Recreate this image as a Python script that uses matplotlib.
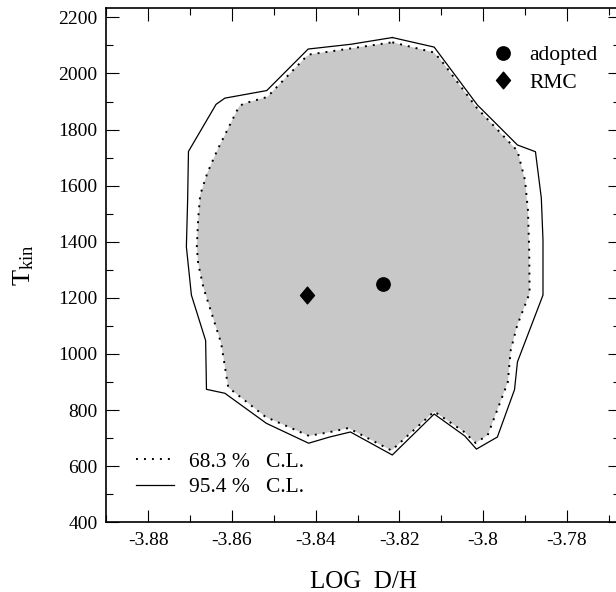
import numpy as np
import matplotlib
matplotlib.use("Agg")
import matplotlib.pyplot as plt
from matplotlib.lines import Line2D
from matplotlib.path import Path
from matplotlib.ticker import MultipleLocator, FixedLocator, FixedFormatter

plt.rcParams['font.family'] = ['Liberation Serif', 'DejaVu Serif']
plt.rcParams['mathtext.fontset'] = 'custom'
plt.rcParams['mathtext.rm'] = 'Liberation Serif'
plt.rcParams['mathtext.it'] = 'Liberation Serif:italic'
plt.rcParams['axes.unicode_minus'] = False

# ---- data ----
cl95_x = [-3.8217, -3.8117, -3.8014, -3.7918, -3.7875, -3.7861, -3.7857, -3.7857,
          -3.7918, -3.7925, -3.7966, -3.8016, -3.8044, -3.8117, -3.8217, -3.8317,
          -3.8367, -3.8417, -3.8518, -3.8617, -3.8661, -3.8663, -3.8697, -3.8709,
          -3.8706, -3.8704, -3.8638, -3.8617, -3.8517, -3.8418, -3.8316]
cl95_y = [2128, 2094, 1888, 1745, 1721, 1556, 1406, 1210,
          972, 873, 704, 661, 708, 786, 640, 722,
          704, 682, 753, 860, 874, 1048, 1210, 1382,
          1549, 1722, 1890, 1912, 1939, 2087, 2104]

cl68_x = [-3.8217, -3.8118, -3.8101, -3.8015, -3.7918, -3.7900, -3.7893, -3.7890,
          -3.7889, -3.7919, -3.7934, -3.7941, -3.7989, -3.8018, -3.8046, -3.8117,
          -3.8219, -3.8322, -3.8365, -3.8416, -3.8520, -3.8609, -3.8626, -3.8668,
          -3.8681, -3.8684, -3.8681, -3.8676, -3.8659, -3.8635, -3.8583, -3.8571,
          -3.8516, -3.8422, -3.8413, -3.8317]
cl68_y = [2111, 2075, 2048, 1877, 1724, 1620, 1513, 1371,
          1217, 1100, 1014, 900, 711, 683, 723, 795,
          656, 736, 722, 708, 776, 881, 1039, 1235,
          1324, 1382, 1478, 1567, 1645, 1727, 1883, 1893,
          1916, 2061, 2068, 2089]

adopted_x = [-3.824]
adopted_y = [1250]
rmc_x = [-3.842]
rmc_y = [1212]

xtick_vals = [-3.88, -3.86, -3.84, -3.82, -3.80, -3.78]
xtick_labels = ['-3.88', '-3.86', '-3.84', '-3.82', '-3.8', '-3.78']
ytick_vals = [400, 600, 800, 1000, 1200, 1400, 1600, 1800, 2000, 2200]
ytick_labels = ['400', '600', '800', '1000', '1200', '1400', '1600', '1800', '2000', '2200']

# ---- figure ----
fig = plt.figure(figsize=(6.16, 5.92), dpi=100)
ax = fig.add_axes([0.1721, 0.1177, 0.8344, 0.8696])

gray = '#c8c8c8'
ax.fill(cl68_x, cl68_y, color=gray, lw=0, zorder=1)
ax.plot(cl68_x + cl68_x[:1], cl68_y + cl68_y[:1], color='black', lw=1.4,
        dashes=(1, 3.1), zorder=3)
ax.plot(cl95_x + cl95_x[:1], cl95_y + cl95_y[:1], color='black', lw=0.9, zorder=3)

diamond = Path([(0, 1), (0.84, 0), (0, -1), (-0.84, 0), (0, 1)],
               [Path.MOVETO, Path.LINETO, Path.LINETO, Path.LINETO, Path.CLOSEPOLY])
h_ad, = ax.plot(adopted_x, adopted_y, 'o', color='black', ms=9.6, ls='none', zorder=4)
h_rmc, = ax.plot(rmc_x, rmc_y, marker=diamond, color='black', ms=12, ls='none', zorder=4)

ax.set_xlim(-3.8901, -3.7673)
ax.set_ylim(400, 2235)

ax.xaxis.set_major_locator(FixedLocator(xtick_vals))
ax.xaxis.set_major_formatter(FixedFormatter(xtick_labels))
ax.xaxis.set_minor_locator(MultipleLocator(0.01))
ax.yaxis.set_major_locator(FixedLocator(ytick_vals))
ax.yaxis.set_major_formatter(FixedFormatter(ytick_labels))
ax.yaxis.set_minor_locator(MultipleLocator(100))

ax.tick_params(which='both', direction='in', top=True, right=True, width=0.8,
               labelsize=14, color='black')
ax.tick_params(which='major', length=9)
ax.tick_params(which='minor', length=4.7)
ax.tick_params(axis='x', pad=7)
ax.tick_params(axis='y', pad=6)
for s in ax.spines.values():
    s.set_linewidth(1.2)

ax.set_xlabel('LOG  D/H', fontsize=18, labelpad=16)
ax.set_ylabel(r'T$_{\mathrm{kin}}$', fontsize=19, labelpad=16.5)

leg1 = ax.legend([h_ad, h_rmc], ['adopted', 'RMC'], loc='upper left',
                 bbox_to_anchor=(0.752, 0.927), frameon=False, fontsize=15.5,
                 handlelength=1.0, handletextpad=0.7, borderpad=0,
                 borderaxespad=0, labelspacing=0.34, numpoints=1)
ax.add_artist(leg1)

l68 = Line2D([], [], color='black', lw=1.4, dashes=(1, 3.1))
l95 = Line2D([], [], color='black', lw=0.9)
ax.legend([l68, l95], ['68.3 %   C.L.', '95.4 %   C.L.'], loc='lower left',
          bbox_to_anchor=(0.0584, 0.049), frameon=False, fontsize=15.5,
          handlelength=1.77, handletextpad=0.67, borderpad=0,
          borderaxespad=0, labelspacing=0.25)

fig.savefig('out.png', dpi=100)
